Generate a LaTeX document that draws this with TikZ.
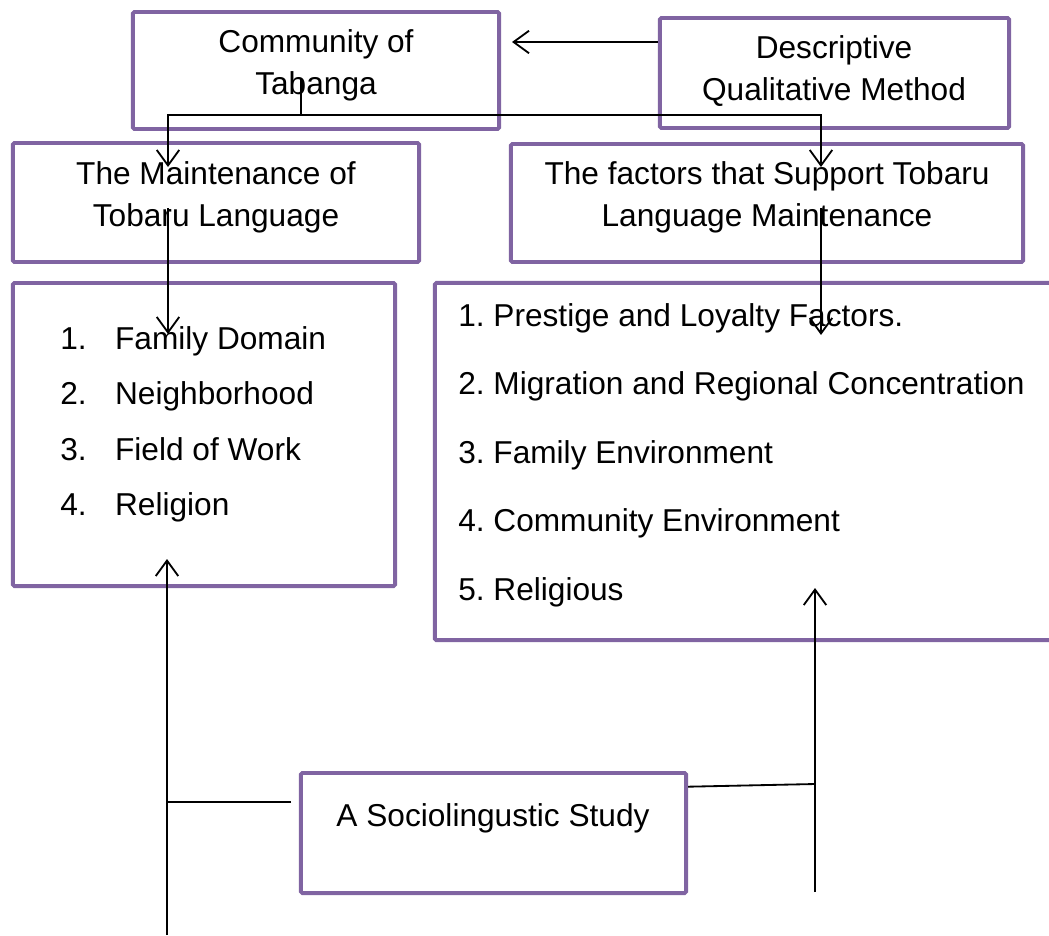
\documentclass[tikz,border=0pt]{standalone}
\usepackage{fontspec}
\setmainfont{Liberation Sans}
\usetikzlibrary{arrows.meta}
\definecolor{boxpurple}{RGB}{128,100,162}
\frenchspacing

\begin{document}
\begin{tikzpicture}[x=0.025cm, y=-0.025cm,
  font=\fontsize{22.5}{30}\selectfont,
  box/.style={draw=boxpurple, line width=2.8pt, rectangle, rounded corners=1pt, inner sep=0pt},
  txt/.style={align=center, inner sep=0pt},
  item/.style={anchor=base west, inner sep=0pt},
  link/.style={line width=1.3pt},
  arr/.style={line width=1.3pt, -{Straight Barb[length=11pt, width=16pt, line width=1.3pt]}}]
\useasboundingbox (0,0) rectangle (1049,935);
\clip (0,0) rectangle (1049,935);

% boxes
\node[box, minimum width=9.15cm, minimum height=2.925cm] (CT)at(316, 70.5) {};
\node[box, minimum width=8.725cm, minimum height=2.75cm] (DQ)at(834.5, 73) {};
\node[box, minimum width=10.15cm, minimum height=2.975cm] (TM)at(216, 202.5) {};
\node[box, minimum width=12.8cm, minimum height=2.95cm] (FS)at(767, 203) {};
\node[box, minimum width=9.55cm, minimum height=7.575cm] (LL)at(204, 434.5) {};
\node[box, minimum width=16cm, minimum height=8.925cm] (RL)at(755, 461.5) {};
\node[box, minimum width=9.625cm, minimum height=3cm] (SS)at(493.5, 833) {};

% box texts
\node[txt] (CTtext)at(316, 65) {Community of\\Tabanga};
\node[txt] (DQtext)at(834, 71) {Descriptive\\Qualitative Method};
\node[txt] (TMtext)at(216, 197) {The Maintenance of\\Tobaru Language};
\node[txt] (FStext)at(767, 197) {The factors that Support Tobaru\\Language Maintenance};
\node[txt] (SStext)at(493, 818) {A Sociolingustic Study};

% left list
\node[item] (L1)at(60, 349) {\makebox[39pt][l]{1.}Family Domain};
\node[item] (L2)at(60, 404) {\makebox[39pt][l]{2.}Neighborhood};
\node[item] (L3)at(60, 460) {\makebox[39pt][l]{3.}Field of Work};
\node[item] (L4)at(60, 515) {\makebox[39pt][l]{4.}Religion};

% right list
\node[item] (R1)at(458, 326) {1. Prestige and Loyalty Factors.};
\node[item] (R2)at(458, 394) {2. Migration and Regional Concentration};
\node[item] (R3)at(458, 463) {3. Family Environment};
\node[item] (R4)at(458, 531) {4. Community Environment};
\node[item] (R5)at(458, 600) {5. Religious};

% connector ends
\coordinate (ctin) at (512, 42);
\coordinate (stem) at (301, 78);
\coordinate (split) at (301, 115);
\coordinate (tmin) at (168, 167);
\coordinate (fsin) at (821, 167);
\coordinate (tmout) at (168, 208);
\coordinate (llin) at (168, 334);
\coordinate (fsout) at (821, 208);
\coordinate (rlin) at (821, 335);
\coordinate (lbot) at (167, 935);
\coordinate (llup) at (167, 559);
\coordinate (ssleft) at (291, 802);
\coordinate (rbot) at (815, 892);
\coordinate (rlup) at (815, 588);
\coordinate (ssright) at (815, 784);

% connectors
\draw[arr] (DQ.west |- ctin) -- (ctin);
\draw[link] (stem) -- (split);
\draw[arr] (split) -| (tmin);
\draw[arr] (split) -| (fsin);
\draw[arr] (tmout) -- (llin);
\draw[arr] (fsout) -- (rlin);
\draw[arr] (lbot) -- (llup);
\draw[link] (ssleft) -- (lbot |- ssleft);
\draw[arr] (rbot) -- (rlup);
\draw[link] ([yshift=-1.2pt]SS.east |- 0,785) -- (ssright);
\end{tikzpicture}
\end{document}
